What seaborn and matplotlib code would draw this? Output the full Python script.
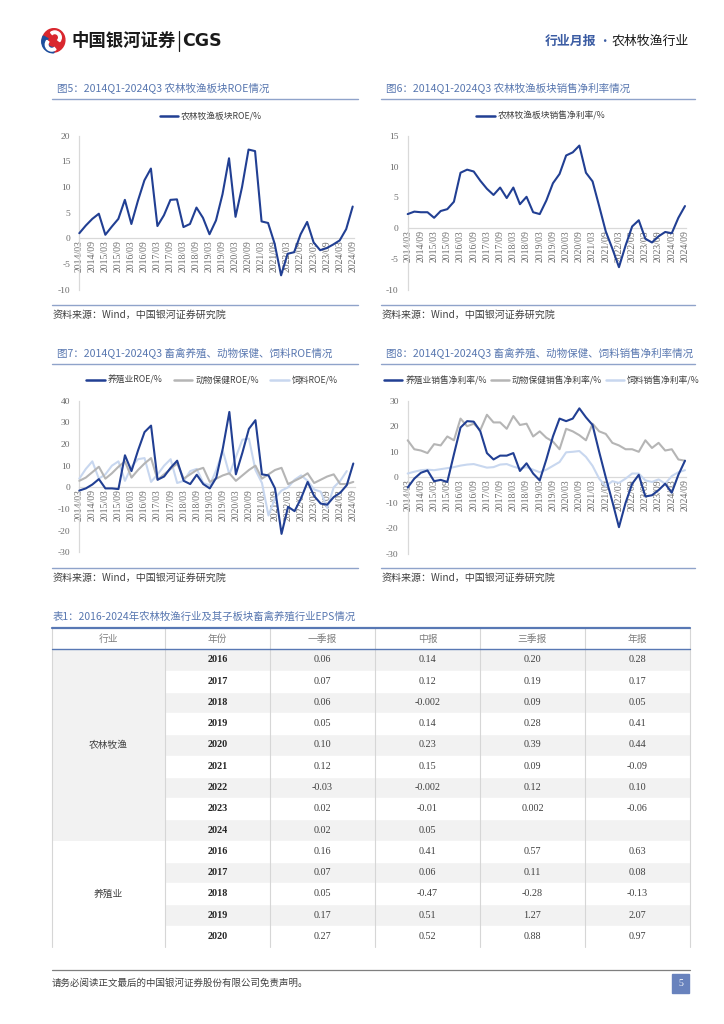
import matplotlib
matplotlib.use("Agg")
import numpy as np
import pandas as pd
import matplotlib.pyplot as plt
import seaborn as sns
from matplotlib.lines import Line2D
from matplotlib.patches import Rectangle, Circle, Wedge, Ellipse

sns.set_style("white")
plt.rcParams['font.family'] = ['Noto Sans CJK SC', 'DejaVu Sans']
plt.rcParams['axes.unicode_minus'] = False

# ---------------- data ----------------
quarters = [f"{y}/{m:02d}" for y in range(2014, 2025) for m in (3, 6, 9, 12)][:43]

roe_agri = [1.0, 2.5, 3.8, 4.8, 0.7, 2.3, 3.8, 7.5, 2.8, 7.3, 11.3, 13.6, 2.4, 4.5, 7.5, 7.6,
            2.2, 2.8, 6.0, 4.0, 0.8, 3.5, 8.6, 15.6, 4.2, 10.0, 17.3, 17.0, 3.3, 3.0, -1.0, -7.2,
            -3.0, -2.7, 0.8, 3.2, -0.8, -2.3, -1.9, -1.2, -0.4, 1.8, 6.2]
npm_agri = [2.3, 2.7, 2.6, 2.6, 1.7, 2.8, 3.1, 4.3, 9.0, 9.5, 9.2, 7.7, 6.4, 5.4, 6.6, 4.9,
            6.6, 3.9, 5.1, 2.6, 2.3, 4.5, 7.3, 8.8, 11.8, 12.3, 13.4, 9.0, 7.6, 3.6, -0.5, -3.3,
            -6.3, -2.8, 0.3, 1.3, -1.7, -2.3, -1.3, -0.6, -0.8, 1.7, 3.6]

roe_breed = [-1.5, -0.5, 1.3, 3.8, -0.5, -0.5, -0.8, 14.8, 7.5, 17.0, 25.5, 28.5, 3.5, 5.0, 9.0, 12.3,
             3.0, 1.5, 5.8, 1.5, -0.5, 4.5, 18.0, 34.8, 6.0, 16.0, 27.0, 31.0, 6.0, 5.5, -0.5, -21.5,
             -9.0, -11.0, -5.0, 2.5, -4.0, -7.5, -8.0, -4.5, -2.5, 1.0, 11.0]
roe_health = [3.0, 4.5, 7.0, 9.5, 4.0, 6.5, 9.5, 12.0, 4.5, 8.0, 11.0, 13.5, 3.5, 6.0, 8.5, 11.0,
              4.0, 6.0, 8.0, 9.0, 2.5, 4.0, 5.5, 6.5, 3.0, 5.5, 8.0, 10.0, 4.0, 6.0, 8.0, 9.0,
              1.5, 3.0, 4.5, 6.5, 2.0, 3.5, 5.0, 6.0, 1.5, 1.5, 2.5]
roe_feed = [4.0, 8.5, 12.0, 4.0, 6.0, 10.0, 12.0, 3.0, 9.5, 13.0, 13.5, 2.5, 6.0, 10.0, 13.0, 2.0,
            3.0, 7.5, 8.5, 2.0, 1.0, 8.0, 17.0, 6.0, 14.0, 22.0, 22.5, 8.0, 2.0, -13.0, -5.0, -1.5,
            0.0, 3.5, 5.5, 3.0, -1.0, -2.0, -9.5, 0.0, 3.0, 7.5, np.nan]

npm_breed = [-4.0, -0.5, 1.8, 2.7, -1.5, -1.0, -1.8, 9.0, 19.5, 22.0, 21.8, 18.0, 9.5, 7.0, 8.5, 8.5,
             9.5, 2.5, 5.5, 1.5, -1.2, 7.0, 16.0, 23.0, 22.0, 23.0, 27.0, 23.5, 20.5, 10.0, 0.0, -9.5,
             -19.5, -10.0, -2.5, 1.0, -7.5, -7.0, -5.0, -2.5, -6.0, 1.0, 6.5]
npm_health = [14.5, 11.0, 10.5, 9.5, 13.0, 12.5, 16.0, 14.5, 23.0, 20.0, 21.0, 18.5, 24.5, 21.5, 21.5, 19.0,
              24.0, 20.5, 21.0, 16.0, 18.0, 15.5, 14.0, 11.0, 19.0, 18.0, 16.5, 14.5, 21.0, 18.0, 17.0, 13.5,
              12.5, 11.0, 11.0, 10.0, 14.5, 11.5, 13.5, 10.5, 11.0, 7.0, 6.5]
npm_feed = [1.5, 2.2, 2.8, 3.0, 2.8, 3.2, 3.6, 4.0, 4.6, 5.0, 5.2, 4.5, 3.8, 4.0, 5.0, 5.2,
            4.2, 3.5, 4.0, 3.0, 2.0, 3.0, 4.5, 6.0, 9.8, 10.0, 10.3, 8.0, 4.5, -0.5, -3.5, -1.5,
            -2.2, -0.5, 1.5, 1.5, -1.2, -1.8, -0.8, -2.5, 0.5, 2.0, 2.8]

tbl_header = ['行业', '年份', '一季报', '中报', '三季报', '年报']
agri_name = '农林牧渔'
agri_years = ['2016', '2017', '2018', '2019', '2020', '2021', '2022', '2023', '2024']
agri_q1 = [0.06, 0.07, 0.06, 0.05, 0.10, 0.12, -0.03, 0.02, 0.02]
agri_h1 = [0.14, 0.12, -0.002, 0.14, 0.23, 0.15, -0.002, -0.01, 0.05]
agri_q3 = [0.20, 0.19, 0.09, 0.28, 0.39, 0.09, 0.12, 0.002, None]
agri_fy = [0.28, 0.17, 0.05, 0.41, 0.44, -0.09, 0.10, -0.06, None]
breed_name = '养殖业'
breed_years = ['2016', '2017', '2018', '2019', '2020']
breed_q1 = [0.16, 0.07, 0.05, 0.17, 0.27]
breed_h1 = [0.41, 0.06, -0.47, 0.51, 0.52]
breed_q3 = [0.57, 0.11, -0.28, 1.27, 0.88]
breed_fy = [0.63, 0.08, -0.13, 2.07, 0.97]

NAVY = '#213f93'
GRAY = '#b5b5b5'
LBLUE = '#c8d7ef'
TITLE_C = '#5877b0'
RULE_C = '#8fa3ca'
TXT = '#6b6b6b'

# ---------------- figure ----------------
W, H = 724, 1024
fig = plt.figure(figsize=(7.24, 10.24), dpi=100)
fig.patch.set_facecolor('white')


def fx(px):
    return px / W


def fy(py):
    return 1 - py / H


def hrule(x0, x1, y, color, lw=1.0):
    fig.add_artist(Line2D([fx(x0), fx(x1)], [fy(y), fy(y)], color=color, lw=lw,
                          transform=fig.transFigure))


def draw_chart(rect, series, names, colors, ylim, yticks, leg_xy, colspace):
    l, t, r, b = rect
    ax = fig.add_axes([fx(l), fy(b), (r - l) / W, (b - t) / H])
    frames = []
    for s, n in zip(series, names):
        frames.append(pd.DataFrame({'q': np.arange(len(s)), 'v': s, 'series': n}))
    df = pd.concat(frames, ignore_index=True)
    sns.lineplot(data=df, x='q', y='v', hue='series', hue_order=names,
                 palette=dict(zip(names, colors)), ax=ax, lw=1.5, legend=True)
    for i, line in enumerate(ax.lines):
        line.set_solid_joinstyle('round')
        line.set_clip_on(False)
        if i == 0:
            line.set_zorder(4)
        else:
            line.set_zorder(3 - 0.1 * i)
    for sp in ['top', 'right']:
        ax.spines[sp].set_visible(False)
    ax.spines['bottom'].set_position(('data', 0))
    ax.spines['bottom'].set_color('#d9d9d9')
    ax.spines['bottom'].set_linewidth(0.9)
    ax.spines['left'].set_color('#d9d9d9')
    ax.spines['left'].set_linewidth(0.9)
    ax.set_xlim(0, 42.2)
    ax.set_ylim(*ylim)
    ax.set_yticks(yticks)
    ax.set_yticklabels([str(v) for v in yticks], fontfamily='Liberation Serif')
    ax.set_xticks(np.arange(0, 43, 2))
    ax.set_xticklabels(quarters[::2], rotation=90, fontfamily='Liberation Serif')
    ax.set_xlabel('')
    ax.set_ylabel('')
    ax.tick_params(axis='x', length=0, pad=1.5, labelsize=7.0, labelcolor=TXT, labelrotation=90)
    ax.tick_params(axis='y', length=0, pad=6.5, labelsize=6.8, labelcolor=TXT)
    ax.set_facecolor('none')
    ax.grid(False)
    handles, labels = ax.get_legend_handles_labels()
    leg = ax.legend(handles, labels, loc='center',
                    bbox_to_anchor=((leg_xy[0] - l) / (r - l), (b - leg_xy[1]) / (b - t)),
                    ncol=len(names), frameon=False, fontsize=6.3, handlelength=2.1,
                    handletextpad=0.35, columnspacing=colspace, borderaxespad=0)
    for txt in leg.get_texts():
        txt.set_color('#404040')
    for lh in leg.get_lines():
        lh.set_linewidth(1.8)
    return ax


# chart 5
draw_chart((79.3, 135.7, 354.0, 289.7), [roe_agri], ['农林牧渔板块ROE/%'], [NAVY],
           (-10, 20), [-10, -5, 0, 5, 10, 15, 20], (211, 117), 1.0)
# chart 6
draw_chart((407.7, 135.7, 686.3, 290.0), [npm_agri], ['农林牧渔板块销售净利率/%'], [NAVY],
           (-10, 15), [-10, -5, 0, 5, 10, 15], (541, 116), 1.0)
# chart 7
draw_chart((79.3, 400.7, 354.6, 552.3), [roe_breed, roe_health, roe_feed],
           ['养殖业ROE/%', '动物保健ROE/%', '饲料ROE/%'], [NAVY, GRAY, LBLUE],
           (-30, 40), [-30, -20, -10, 0, 10, 20, 30, 40], (212, 380), 1.3)
# chart 8
draw_chart((407.7, 400.7, 686.3, 554.0), [npm_breed, npm_health, npm_feed],
           ['养殖业销售净利率/%', '动物保健销售净利率/%', '饲料销售净利率/%'], [NAVY, GRAY, LBLUE],
           (-30, 30), [-30, -20, -10, 0, 10, 20, 30], (542, 380.5), 0.4)

# titles, rules, sources
titles = [(57, 89, '图5：2014Q1-2024Q3 农林牧渔板块ROE情况'),
          (386, 89, '图6：2014Q1-2024Q3 农林牧渔板块销售净利率情况'),
          (57, 354, '图7：2014Q1-2024Q3 畜禽养殖、动物保健、饲料ROE情况'),
          (386, 354, '图8：2014Q1-2024Q3 畜禽养殖、动物保健、饲料销售净利率情况')]
for x, y, s in titles:
    fig.text(fx(x), fy(y), s, fontsize=7.6, color=TITLE_C, va='center', ha='left')
for (x0, x1) in [(52, 358), (381, 695)]:
    hrule(x0, x1, 98.5, RULE_C, 1.0)
    hrule(x0, x1, 304.5, RULE_C, 1.0)
    hrule(x0, x1, 363.5, RULE_C, 1.0)
    hrule(x0, x1, 567.5, RULE_C, 1.0)
for x in (53, 382):
    for y in (314.5, 578):
        fig.text(fx(x), fy(y), '资料来源：Wind，中国银河证券研究院', fontsize=7.2,
                 color='#404040', va='center', ha='left', style='italic')

# table title
fig.text(fx(53), fy(616), '表1：2016-2024年农林牧渔行业及其子板块畜禽养殖行业EPS情况',
         fontsize=7.5, color=TITLE_C, va='center', ha='left')


def fmt(v):
    if v is None:
        return ''
    s = f"{v:.2f}"
    if abs(float(s) - v) > 1e-9:
        s = f"{v:.3f}"
    return s


# table
tl, tt, tr, tb = 52, 628, 690, 947
tax = fig.add_axes([fx(tl), fy(tb), (tr - tl) / W, (tb - tt) / H])
col_w = [1.075, 1, 1, 1, 1, 1]
edges = np.concatenate([[0], np.cumsum(col_w)])
nrows = 1 + len(agri_years) + len(breed_years)
tax.set_xlim(0, edges[-1])
tax.set_ylim(nrows, 0)
tax.axis('off')

rows = []
for i, yv in enumerate(agri_years):
    rows.append((yv, agri_q1[i], agri_h1[i], agri_q3[i], agri_fy[i]))
for i, yv in enumerate(breed_years):
    rows.append((yv, breed_q1[i], breed_h1[i], breed_q3[i], breed_fy[i]))

ZEBRA = '#f2f2f2'
for k, row in enumerate(rows):
    r0 = 1 + k
    if k % 2 == 0:
        tax.add_patch(Rectangle((edges[1], r0), edges[-1] - edges[1], 1, color=ZEBRA, lw=0, zorder=1))
    tax.text((edges[1] + edges[2]) / 2, r0 + 0.5, row[0], ha='center', va='center',
             fontsize=7.3, fontweight='bold', color='#262626', fontfamily='Liberation Serif', zorder=5)
    for j in range(4):
        tax.text((edges[2 + j] + edges[3 + j]) / 2, r0 + 0.5, fmt(row[1 + j]), ha='center', va='center',
                 fontsize=7.3, color='#404040', fontfamily='Liberation Serif', zorder=5)
# merged industry cells
na = len(agri_years)
tax.add_patch(Rectangle((0, 1), edges[1], na, color=ZEBRA, lw=0, zorder=1))
tax.text(edges[1] / 2, 1 + na / 2, agri_name, ha='center', va='center', fontsize=7, color='#404040', zorder=5)
tax.text(edges[1] / 2, 1 + na + len(breed_years) / 2, breed_name, ha='center', va='center',
         fontsize=7, color='#404040', zorder=5)
# white row separators on zebra
for k in range(1, len(rows)):
    tax.plot([edges[1], edges[-1]], [1 + k, 1 + k], color='white', lw=1.0, zorder=2)
# vertical lines
for e in edges:
    tax.plot([e, e], [0, nrows], color='#d6d6d6', lw=0.8, zorder=3, clip_on=False)
# header
for j, h in enumerate(tbl_header):
    tax.text((edges[j] + edges[j + 1]) / 2, 0.5, h, ha='center', va='center', fontsize=7,
             color='#7f7f7f', zorder=5)
tax.plot([0, edges[-1]], [0, 0], color='#5878b4', lw=1.6, zorder=6, clip_on=False)
tax.plot([0, edges[-1]], [1, 1], color='#5878b4', lw=1.0, zorder=6, clip_on=False)

# header: logo and texts
lax = fig.add_axes([fx(39), fy(54), 28 / W, 26 / H])
lax.set_xlim(-1.1, 1.1)
lax.set_ylim(-1.1, 1.1)
lax.set_aspect('equal')
lax.axis('off')
lax.add_patch(Ellipse((0.05, 0.05), 1.9, 2.0, angle=-20, color='#d9272e'))
lax.add_patch(Wedge((0.0, -0.05), 0.95, 150, 275, width=0.45, color='#1d4f9e'))
lax.add_patch(Wedge((0.15, 0.3), 0.55, -40, 130, width=0.22, color='white'))
lax.add_patch(Wedge((-0.1, -0.3), 0.55, 140, 310, width=0.22, color='white'))

fig.text(fx(71), fy(41), '中国银河证券', fontsize=12.5, fontweight='bold', color='#1a1a1a',
         va='center', ha='left')
fig.add_artist(Line2D([fx(178.5), fx(178.5)], [fy(31), fy(51)], color='#1a1a1a', lw=0.9,
                      transform=fig.transFigure))
fig.text(fx(182), fy(41), 'CGS', fontsize=12.5, fontweight='bold', color='#1a1a1a',
         va='center', ha='left', fontfamily='DejaVu Sans')
fig.text(fx(545), fy(41), '行业月报', fontsize=9.3, fontweight='bold', color='#3b5ca3',
         va='center', ha='left')
fig.text(fx(604), fy(41), '·', fontsize=9, color='#3b5ca3', va='center', ha='center')
fig.text(fx(612), fy(41), '农林牧渔行业', fontsize=9.3, color='#1a1a1a', va='center', ha='left')

# footer
hrule(52, 690, 969.5, '#7f7f7f', 0.9)
fig.text(fx(52), fy(983), '请务必阅读正文最后的中国银河证券股份有限公司免责声明。', fontsize=6.8,
         color='#404040', va='center', ha='left')
fig.add_artist(Rectangle((fx(672), fy(993)), 17 / W, 19 / H, color='#6882bd',
                         transform=fig.transFigure))
fig.text(fx(680.5), fy(983.5), '5', fontsize=7, color='white', va='center', ha='center',
         fontfamily='Liberation Serif')

fig.savefig('out.png', dpi=100, facecolor='white')
